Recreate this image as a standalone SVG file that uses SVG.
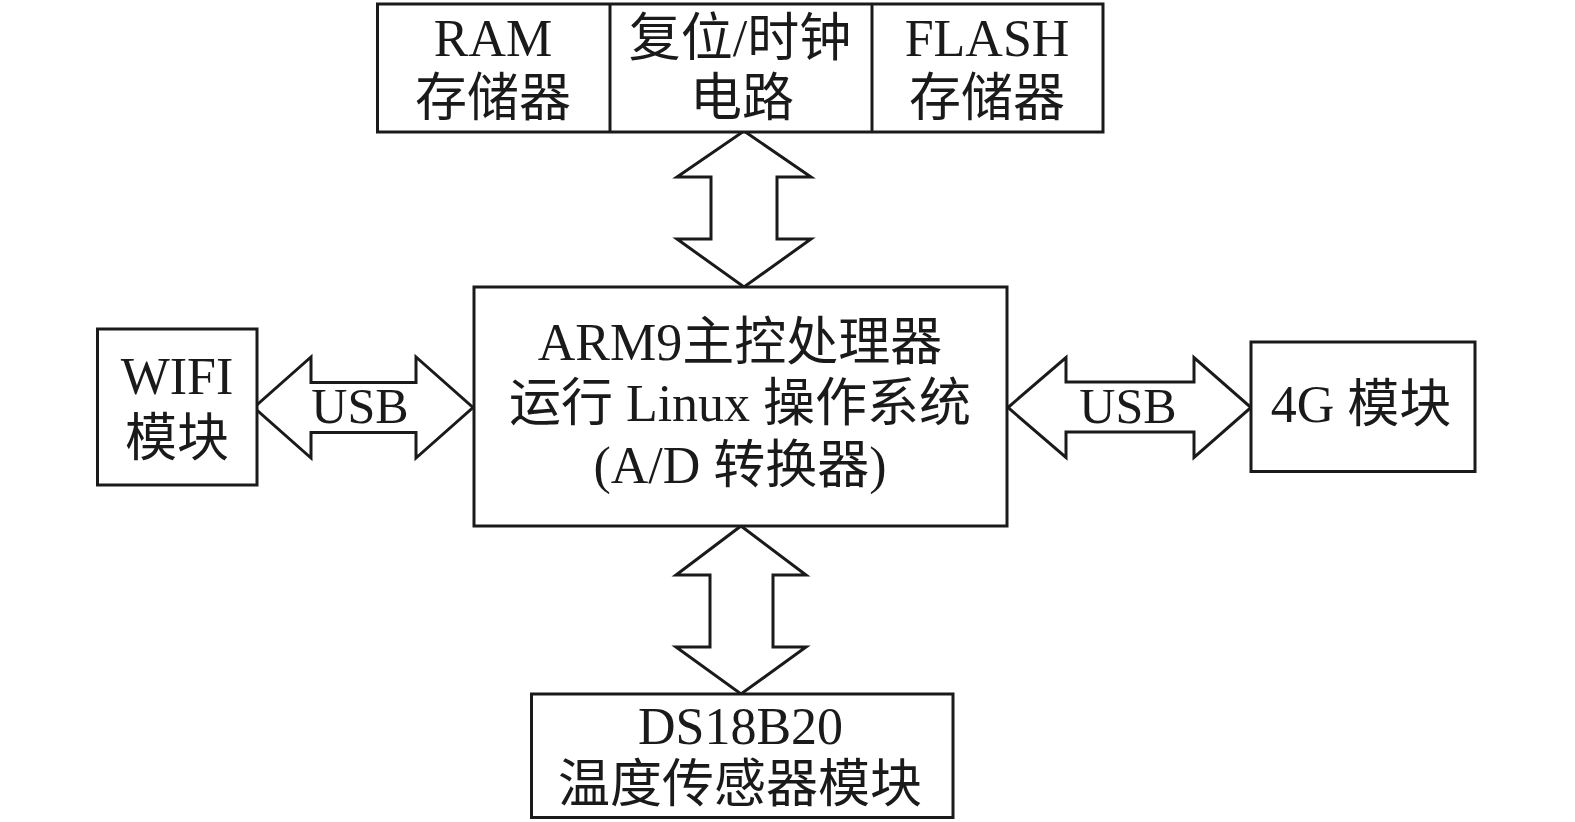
<svg xmlns="http://www.w3.org/2000/svg" width="1575" height="822" viewBox="0 0 1575 822">
<style>
.box{fill:#fff;stroke:#1a1a1a;stroke-width:3}
.arr{fill:#fff;stroke:#1a1a1a;stroke-width:3;stroke-linejoin:miter}
text{font-family:"Liberation Serif","Noto Sans CJK SC",serif;font-size:52px;fill:#1a1a1a;text-anchor:middle}
</style>
<rect width="1575" height="822" fill="#fff"/>
<g id="connectors">
<polygon class="arr" points="744,131 811,177 777,177 777,239 811,239 744,287 677,239 711,239 711,177 677,177"/>
<polygon class="arr" points="741,526 806,575 773,575 773,647 806,647 741,694 676,647 710,647 710,575 676,575"/>
<polygon class="arr" points="254,407.5 311,357 311,382.5 416,382.5 416,357 473,407.5 416,458 416,432.5 311,432.5 311,458"/>
<polygon class="arr" points="1008,407.5 1066,357.5 1066,382 1194,382 1194,357.5 1251,407.5 1194,457.5 1194,432 1066,432 1066,457.5"/>
<text x="360" y="423" style="font-size:50px">USB</text>
<text x="1128" y="423" style="font-size:50px">USB</text>
</g>
<g id="top-block">
<rect class="box" x="377.5" y="4" width="725.5" height="128"/>
<line x1="610" y1="4" x2="610" y2="132" stroke="#1a1a1a" stroke-width="3"/>
<line x1="872" y1="4" x2="872" y2="132" stroke="#1a1a1a" stroke-width="3"/>
</g>
<g id="ram">
<text x="493" y="56">RAM</text>
<text x="493" y="116">存储器</text>
</g>
<g id="reset-clock">
<text x="740" y="56">复位/时钟</text>
<text x="742" y="116">电路</text>
</g>
<g id="flash">
<text x="987" y="56">FLASH</text>
<text x="987" y="116">存储器</text>
</g>
<g id="arm">
<rect class="box" x="474" y="287" width="533" height="239"/>
<text x="740" y="360">ARM9主控处理器</text>
<text x="740" y="421">运行 Linux 操作系统</text>
<text x="740" y="483">(A/D 转换器)</text>
</g>
<g id="wifi">
<rect class="box" x="97.5" y="329" width="159.5" height="156"/>
<text x="177" y="394">WIFI</text>
<text x="177" y="456">模块</text>
</g>
<g id="g4">
<rect class="box" x="1251" y="342" width="224" height="129.5"/>
<text x="1361" y="422">4G 模块</text>
</g>
<g id="ds18b20">
<rect class="box" x="531.5" y="694" width="421.5" height="123.5"/>
<text x="740.5" y="744">DS18B20</text>
<text x="740" y="802">温度传感器模块</text>
</g>
</svg>
